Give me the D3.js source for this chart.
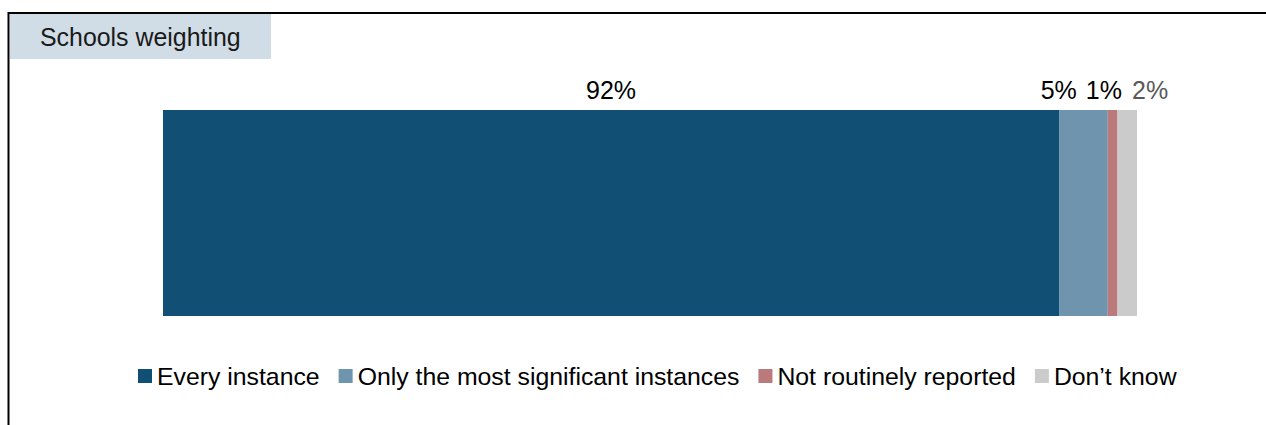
<!DOCTYPE html>
<html>
<head>
<meta charset="utf-8">
<script src="https://cdn.jsdelivr.net/npm/d3@7"></script>
<style>
  html, body { margin: 0; padding: 0; background: #fff; }
  svg { display: block; font-family: "Liberation Sans", Arial, sans-serif; }
</style>
</head>
<body>
<svg id="chart" width="1266" height="425"></svg>
<script>
const title = "Schools weighting";
const categories = ["Every instance", "Only the most significant instances", "Not routinely reported", "Don\u2019t know"];
const values = [92, 5, 1, 2];
const labels = ["92%", "5%", "1%", "2%"];
const colors = ["#124f74", "#6f94ad", "#ba7a7b", "#cbcbcb"];
const labelColors = ["#000000", "#000000", "#000000", "#595959"];

const svg = d3.select("#chart");

// frame
svg.append("line").attr("x1", 8.5).attr("x2", 1266).attr("y1", 13).attr("y2", 13)
  .attr("stroke", "#000").attr("stroke-width", 2);
svg.append("line").attr("x1", 8.5).attr("x2", 8.5).attr("y1", 12).attr("y2", 425)
  .attr("stroke", "#000").attr("stroke-width", 2);

// title box
svg.append("rect").attr("x", 10).attr("y", 14).attr("width", 261).attr("height", 45).attr("fill", "#d0dde6");
svg.append("text").attr("x", 40).attr("y", 46).attr("font-size", 24.9).attr("fill", "#1a1a1a").text(title);

const x = d3.scaleLinear().domain([0, 100]).range([163, 1137]);
const y = d3.scaleBand().domain(["Schools weighting"]).range([110, 316]).padding(0);

let cum = 0;
const segs = values.map((v, i) => { const s = { i, v, x0: cum, x1: cum + v }; cum += v; return s; });

svg.append("g").selectAll("rect").data(segs).join("rect")
  .attr("x", d => x(d.x0)).attr("width", d => x(d.x1) - x(d.x0))
  .attr("y", y("Schools weighting")).attr("height", y.bandwidth())
  .attr("fill", d => colors[d.i]);

// labels
const lg = svg.append("g").attr("font-size", 25);
const lbl = lg.selectAll("text").data(segs).join("text")
  .attr("y", 99).attr("fill", d => labelColors[d.i]).text(d => labels[d.i]);
const widths = [];
lbl.each(function(d) { widths[d.i] = this.getComputedTextLength(); });
// first (large) label centered on its segment
const pos = [];
pos[0] = (x(segs[0].x0) + x(segs[0].x1)) / 2 - widths[0] / 2;
// small labels packed leftward from the bar end
pos[3] = x(100) - 5;
pos[2] = pos[3] - 10 - widths[2];
pos[1] = pos[2] - 9 - widths[1];
lbl.attr("x", d => pos[d.i]);

// legend
const leg = svg.append("g").attr("font-size", 24.8);
let lx = 138;
categories.forEach((c, i) => {
  leg.append("rect").attr("x", lx).attr("y", 369).attr("width", 14).attr("height", 14).attr("fill", colors[i]);
  const t = leg.append("text").attr("x", lx + 19).attr("y", 384.5).attr("fill", "#000").text(c);
  lx += 19 + t.node().getComputedTextLength() + 19;
});
</script>
</body>
</html>
